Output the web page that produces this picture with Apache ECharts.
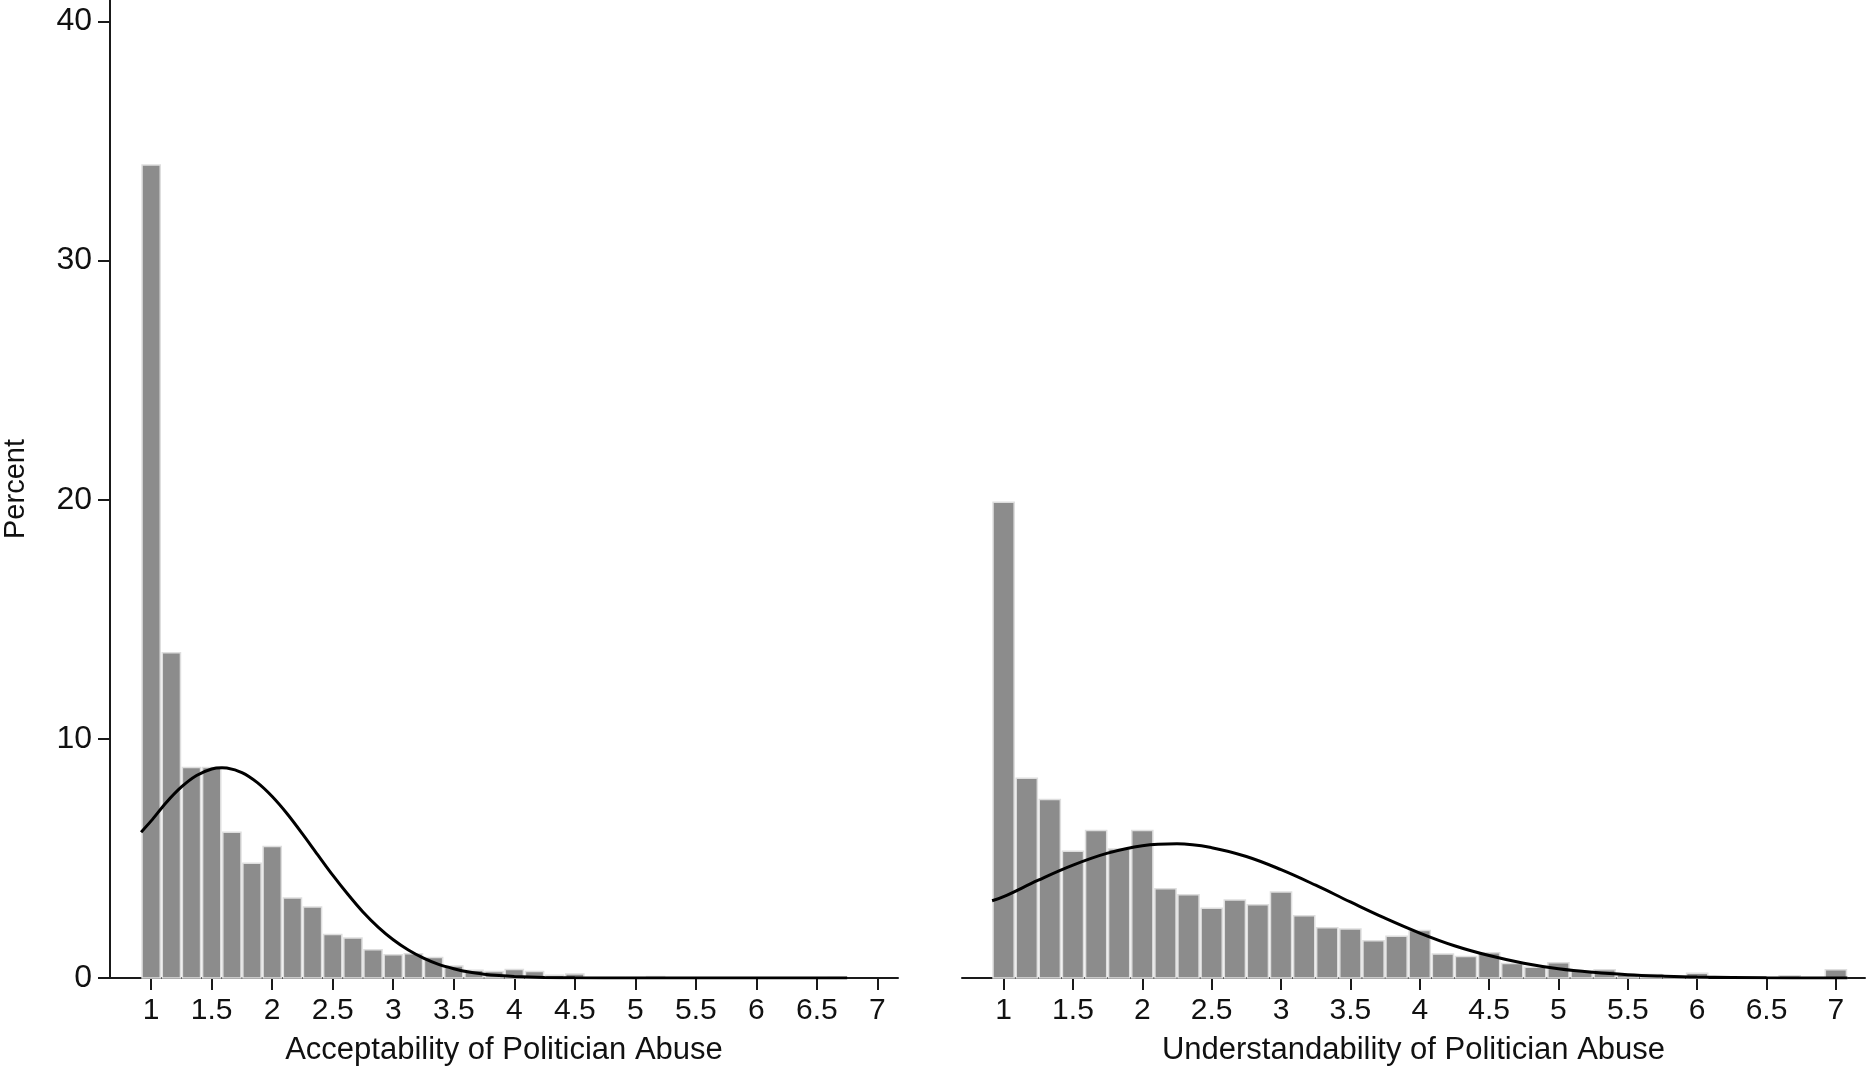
<!DOCTYPE html>
<html lang="en">
<head>
  <meta charset="UTF-8">
  <title>Acceptability / Understandability of Politician Abuse</title>
  <script src="https://cdn.jsdelivr.net/npm/echarts@6/dist/echarts.min.js"></script>
</head>
<body style="margin:0;background:#fff;">
  <div id="main" style="width: 1867px; height: 1071px;"></div>
  <script>
    // bin centres (scale scores in steps of 1/6)
    var binCenters = [1, 1.167, 1.333, 1.5, 1.667, 1.833, 2, 2.167, 2.333, 2.5, 2.667, 2.833,
      3, 3.167, 3.333, 3.5, 3.667, 3.833, 4, 4.167, 4.333, 4.5, 4.667, 4.833,
      5, 5.167, 5.333, 5.5, 5.667, 5.833, 6, 6.167, 6.333, 6.5, 6.667, 6.833, 7];
    var binWidth = 1 / 6;

    // percent per bin
    var acceptPct = [34.0, 13.6, 8.8, 8.8, 6.1, 4.8, 5.5, 3.35, 2.97, 1.82, 1.67, 1.18,
      0.97, 1.01, 0.86, 0.5, 0.32, 0.27, 0.36, 0.27, 0.11, 0.17, 0.02, 0.02,
      0.02, 0.06, 0, 0, 0, 0, 0, 0, 0, 0, 0.02];
    var understandPct = [19.9, 8.35, 7.47, 5.3, 6.17, 5.4, 6.17, 3.73, 3.48, 2.92, 3.26, 3.06,
      3.6, 2.6, 2.1, 2.05, 1.56, 1.75, 1.99, 1.0, 0.9, 1.06, 0.61, 0.45,
      0.64, 0.3, 0.35, 0.15, 0.15, 0.03, 0.2, 0, 0, 0, 0.09, 0, 0.35];

    // normal overlay curves
    var acceptCurveX = [0.917, 1, 1.125, 1.25, 1.375, 1.5, 1.585, 1.625, 1.75, 1.875, 2, 2.125, 2.25, 2.375,
      2.5, 2.625, 2.75, 2.875, 3, 3.125, 3.25, 3.375, 3.5, 3.625, 3.75, 3.875, 4, 4.25, 4.5, 5, 5.5, 6, 6.75];
    var acceptCurveY = [6.1, 6.57, 7.34, 7.99, 8.47, 8.74, 8.79, 8.78, 8.59, 8.18, 7.59, 6.86, 6.03, 5.16,
      4.3, 3.5, 2.76, 2.13, 1.6, 1.17, 0.83, 0.57, 0.39, 0.25, 0.16, 0.1, 0.06, 0.02, 0.006, 0, 0, 0, 0];
    var understandCurveX = [0.917, 1, 1.25, 1.5, 1.75, 2, 2.25, 2.5, 2.75, 3, 3.25, 3.5, 3.75, 4, 4.25, 4.5, 4.75, 5, 5.25, 5.5, 5.75, 6, 6.5, 7.083];
    var understandCurveY = [3.23, 3.4, 4.09, 4.72, 5.22, 5.53, 5.61, 5.45, 5.08, 4.53, 3.88, 3.18, 2.5, 1.88, 1.35, 0.94, 0.62, 0.39, 0.24, 0.14, 0.08, 0.04, 0.01, 0];

    var xTicks = [1, 1.5, 2, 2.5, 3, 3.5, 4, 4.5, 5, 5.5, 6, 6.5, 7];
    var yTicks = [0, 10, 20, 30, 40];
    var xTitles = ['Acceptability of Politician Abuse', 'Understandability of Politician Abuse'];

    var font = 'Liberation Sans, Arial, Helvetica, sans-serif';
    var ink = '#1a1a1a';

    function pairs(xs, ys) {
      return xs.map(function (x, i) { return [x, ys[i]]; });
    }

    function renderBar(params, api) {
      var x = api.value(0), y = api.value(1);
      if (!(y > 0)) return null;
      var p0 = api.coord([x - binWidth / 2, y]);
      var p1 = api.coord([x + binWidth / 2, 0]);
      return {
        type: 'rect',
        shape: { x: p0[0] + 1, y: p0[1], width: p1[0] - p0[0] - 2, height: p1[1] - p0[1] },
        style: { fill: '#8c8c8c', stroke: '#dedede', lineWidth: 1.5 }
      };
    }

    function xAxis(idx, min, max) {
      return {
        type: 'value', gridIndex: idx, min: min, max: max,
        name: xTitles[idx], nameLocation: 'middle', nameGap: 57,
        nameTextStyle: { fontSize: 31, color: '#111', fontFamily: font },
        splitLine: { show: false },
        axisLine: { show: true, onZero: false, lineStyle: { color: ink, width: 2 } },
        axisTick: { show: true, length: 12, lineStyle: { color: ink, width: 2 }, customValues: xTicks },
        axisLabel: { fontSize: 30, color: '#111', fontFamily: font, margin: 18, customValues: xTicks }
      };
    }

    var chart = echarts.init(document.getElementById('main'));
    chart.setOption({
      backgroundColor: '#fff',
      animation: false,
      grid: [
        { left: 106, width: 792, top: 0, bottom: 93 },
        { left: 962, width: 903, top: 0, bottom: 93 }
      ],
      xAxis: [xAxis(0, 0.66, 7.17), xAxis(1, 0.70, 7.21)],
      yAxis: [
        {
          type: 'value', gridIndex: 0, min: 0, max: 40.9,
          name: 'Percent', nameLocation: 'middle', nameGap: 80,
          nameTextStyle: { fontSize: 29, color: '#111', fontFamily: font },
          splitLine: { show: false },
          axisLine: { show: true, lineStyle: { color: ink, width: 2 } },
          axisTick: { show: true, length: 12, lineStyle: { color: ink, width: 2 }, customValues: yTicks },
          axisLabel: { fontSize: 32, color: '#111', fontFamily: font, margin: 18, customValues: yTicks }
        },
        { type: 'value', gridIndex: 1, min: 0, max: 40.9, show: false }
      ],
      series: [
        {
          type: 'custom', xAxisIndex: 0, yAxisIndex: 0, renderItem: renderBar,
          encode: { x: 0, y: 1 }, data: pairs(binCenters.slice(0, acceptPct.length), acceptPct)
        },
        {
          type: 'custom', xAxisIndex: 1, yAxisIndex: 1, renderItem: renderBar,
          encode: { x: 0, y: 1 }, data: pairs(binCenters, understandPct)
        },
        {
          type: 'line', xAxisIndex: 0, yAxisIndex: 0, smooth: 0.3, showSymbol: false, z: 5,
          lineStyle: { color: '#000', width: 3 }, data: pairs(acceptCurveX, acceptCurveY)
        },
        {
          type: 'line', xAxisIndex: 1, yAxisIndex: 1, smooth: 0.4, showSymbol: false, z: 5,
          lineStyle: { color: '#000', width: 3 }, data: pairs(understandCurveX, understandCurveY)
        }
      ]
    });
  </script>
</body>
</html>
